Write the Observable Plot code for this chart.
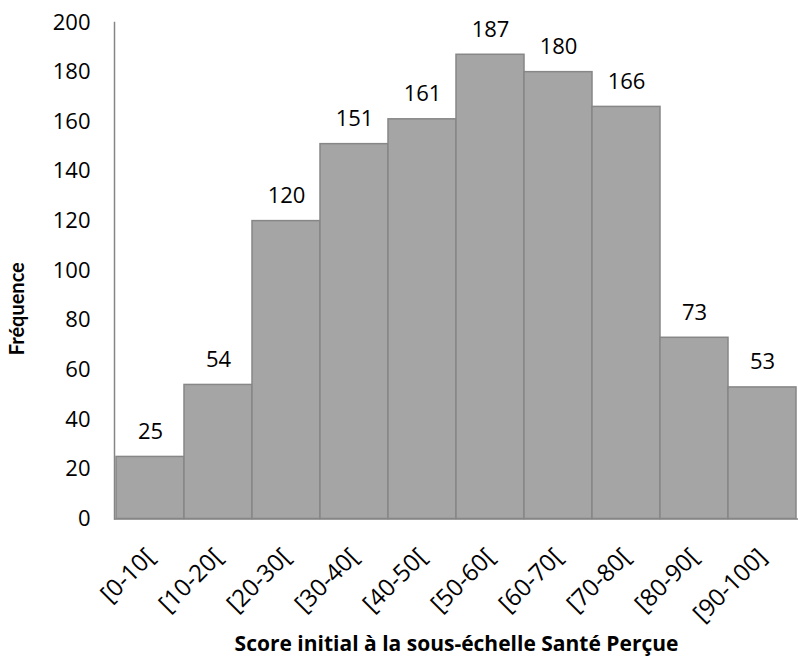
<!DOCTYPE html>
<html>
<head>
<meta charset="utf-8">
<script src="https://cdn.jsdelivr.net/npm/d3@7"></script>
<script src="https://cdn.jsdelivr.net/npm/@observablehq/plot@0.6"></script>
<style>
  html, body { margin: 0; padding: 0; background: #ffffff; }
  #chart svg { display: block; }
</style>
</head>
<body>
<div id="chart"></div>
<script>
const categories = ["[0-10[", "[10-20[", "[20-30[", "[30-40[", "[40-50[", "[50-60[", "[60-70[", "[70-80[", "[80-90[", "[90-100]"];
const frequencies = [25, 54, 120, 151, 161, 187, 180, 166, 73, 53];
const yTicks = [0, 20, 40, 60, 80, 100, 120, 140, 160, 180, 200];
const xTitle = "Score initial à la sous-échelle Santé Perçue";
const yTitle = "Fréquence";

const data = categories.map((c, i) => ({category: c, value: frequencies[i]}));

const chart = Plot.plot({
  width: 798,
  height: 657,
  marginLeft: 114,
  marginRight: 0,
  marginTop: 22,
  marginBottom: 138.5,
  style: {fontFamily: "'Open Sans', Lato, sans-serif", fontSize: "22px", color: "#000", background: "#fff"},
  x: {domain: categories, padding: 0},
  y: {domain: [0, 200]},
  marks: [
    Plot.barY(data, {x: "category", y: "value", fill: "#a5a5a5", stroke: "#878787", strokeWidth: 1.5}),
    Plot.ruleY([0], {stroke: "#868686", strokeWidth: 1.5}),
    Plot.frame({anchor: "left", stroke: "#868686", strokeWidth: 1.5}),
    Plot.axisY({ticks: yTicks, tickSize: 0, tickPadding: 24, label: null, fontSize: 22, fill: "#000"}),
    Plot.axisX({tickSize: 0, tickRotate: -45, tickPadding: 34, label: null, fontSize: 24, fill: "#000"}),
    Plot.text(data, {x: "category", y: "value", text: d => String(d.value), lineAnchor: "bottom", dy: -18, fontSize: 22, fill: "#000"}),
    Plot.text([yTitle], {frameAnchor: "left", textAnchor: "middle", lineAnchor: "middle", dx: -97, dy: 38, rotate: -90, fontFamily: "Lato, 'Open Sans', sans-serif", fontWeight: "bold", fontSize: 20, fill: "#000"}),
    Plot.text([xTitle], {frameAnchor: "bottom", textAnchor: "middle", lineAnchor: "bottom", dy: 131.5, fontFamily: "'Open Sans', Lato, sans-serif", fontWeight: "bold", fontSize: 21, fill: "#000"})
  ]
});
document.getElementById("chart").appendChild(chart);
</script>
</body>
</html>
